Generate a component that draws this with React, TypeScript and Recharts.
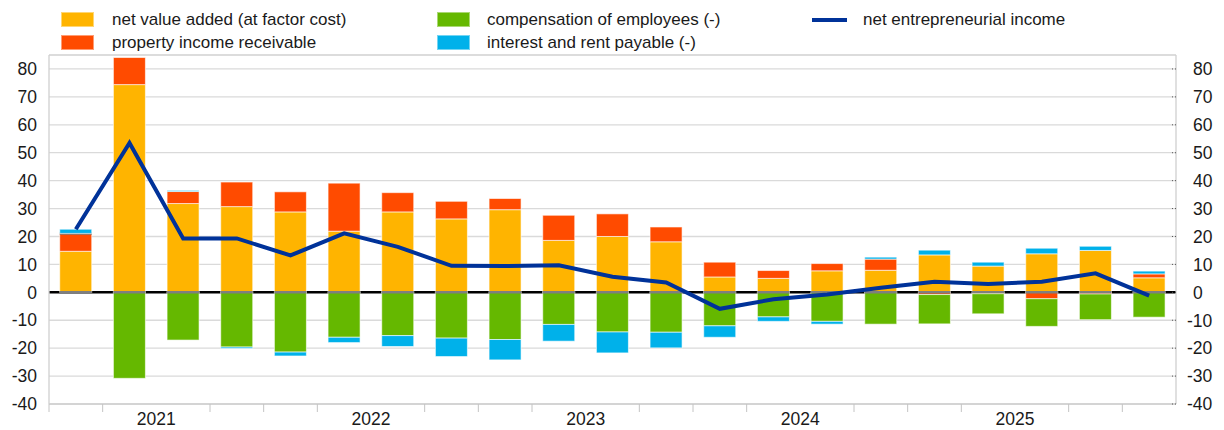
import React from 'react';
import { ComposedChart, Bar, Line, XAxis, YAxis, CartesianGrid, ReferenceLine } from 'recharts';

const quarters = [
  '2021Q1', '2021Q2', '2021Q3', '2021Q4',
  '2022Q1', '2022Q2', '2022Q3', '2022Q4',
  '2023Q1', '2023Q2', '2023Q3', '2023Q4',
  '2024Q1', '2024Q2', '2024Q3', '2024Q4',
  '2025Q1', '2025Q2', '2025Q3', '2025Q4',
  '2026Q1',
];
const netValueAdded = [14.7, 74.4, 31.8, 30.7, 28.8, 21.9, 28.8, 26.3, 29.6, 18.6, 20.0, 18.1, 5.5, 5.0, 7.7, 7.9, 13.4, 9.4, 13.8, 15.0, 5.2];
const propertyIncome = [6.4, 9.7, 4.3, 8.8, 7.2, 17.2, 6.9, 6.3, 4.0, 9.0, 8.1, 5.3, 5.3, 2.8, 2.6, 4.0, -0.8, -0.5, -2.3, -0.6, 1.4];
const compensation = [0, -30.8, -17.1, -19.6, -21.4, -16.1, -15.5, -16.4, -16.9, -11.5, -14.2, -14.3, -12.0, -8.8, -10.4, -11.4, -10.5, -7.2, -9.9, -9.2, -8.9];
const interestRent = [1.5, 0, 0.4, -0.5, -1.4, -1.9, -3.9, -6.6, -7.3, -6.0, -7.5, -5.6, -4.1, -1.6, -1.0, 0.7, 1.7, 1.4, 2.0, 1.5, 1.0];
const entrepreneurialIncome = [22.6, 53.5, 19.3, 19.3, 13.2, 21.1, 16.3, 9.5, 9.4, 9.7, 5.6, 3.5, -5.9, -2.5, -0.8, 1.6, 3.8, 3.0, 3.8, 6.8, -1.2];
const yearLabels = ['2021', '2022', '2023', '2024', '2025'];
const yTicks = [-40, -30, -20, -10, 0, 10, 20, 30, 40, 50, 60, 70, 80];

const seriesNames = {
  nva: 'net value added (at factor cost)',
  prop: 'property income receivable',
  comp: 'compensation of employees (-)',
  int: 'interest and rent payable (-)',
  nei: 'net entrepreneurial income',
};

const COLORS = {
  nva: '#FFB400',
  prop: '#FF4B00',
  comp: '#65B800',
  int: '#00B1EA',
  nei: '#003299',
};

const data = quarters.map((q, i) => ({
  q,
  nva: netValueAdded[i],
  prop: propertyIncome[i],
  comp: compensation[i],
  int: interestRent[i],
  nei: entrepreneurialIncome[i],
}));

const W = 1224;
const H = 430;
const LEFT_W = 49;
const RIGHT_W = 48;
const TOP = 55;
const X_H = 26;
const PLOT_W = W - LEFT_W - RIGHT_W;
const STEP = PLOT_W / quarters.length;
const FONT = '"Liberation Sans", Arial, Helvetica, sans-serif';
const TEXT = '#1a1a1a';
const BAR_STROKE = 'rgba(255,255,255,0.6)';

// Bar segment shape: draws the segment and, when it rests on the zero baseline,
// the grey baseline piece that shows across the bars in the original.
const makeShape = (touchesZero: (row: any) => boolean) => (props: any) => {
  const { x, y, width, height, fill, payload, value } = props;
  if (x == null || y == null || width == null) return <g />;
  const h = height || 0;
  const top = Math.min(y, y + h);
  const bot = Math.max(y, y + h);
  const raw = Array.isArray(value) ? value[1] - value[0] : value;
  const positive = raw >= 0;
  const z = positive ? bot : top;
  return (
    <g>
      <rect x={x} y={top} width={width} height={bot - top} fill={fill} stroke={BAR_STROKE} strokeWidth={1} />
      {touchesZero(payload) && <line x1={x} x2={x + width} y1={z} y2={z} stroke="#7f7f7f" strokeWidth={2.5} />}
    </g>
  );
};

const nvaShape = makeShape(() => true);
const propShape = makeShape((r) => r.prop < 0);
const compShape = makeShape((r) => r.prop >= 0);
const intShape = makeShape(() => false);

const XTick = (props: any) => {
  const { x, y, payload } = props;
  const i = props.index ?? payload.index;
  const bx = x - STEP / 2;
  const isLabel = i % 4 === 2;
  return (
    <g>
      {!isLabel && <line x1={bx} x2={bx} y1={y} y2={y + 8} stroke="#c4c4c4" strokeWidth={1} />}
      {isLabel && (
        <text x={bx} y={y + 21} textAnchor="middle" fontSize={17.5} fill={TEXT} fontFamily={FONT}>
          {yearLabels[(i - 2) / 4]}
        </text>
      )}
    </g>
  );
};

const RIGHT_MARGIN = 17;
const RightTick = (props: any) => {
  const { x, y, payload } = props;
  const v = payload.value;
  const axisX = x - RIGHT_MARGIN;
  return (
    <g>
      <line x1={axisX - 4} x2={axisX} y1={y} y2={y} stroke="#555" strokeWidth={1} strokeDasharray="1 2" />
      <text x={v < 0 ? x - 6 : x} y={y} dy="0.36em" textAnchor="start" fontSize={17.5} fill={TEXT} fontFamily={FONT}>
        {v}
      </text>
    </g>
  );
};

const legendItems = [
  { key: 'nva', type: 'box', x: 61, tx: 112, row: 0 },
  { key: 'comp', type: 'box', x: 437, tx: 487, row: 0 },
  { key: 'nei', type: 'line', x: 812, tx: 863, row: 0 },
  { key: 'prop', type: 'box', x: 61, tx: 112, row: 1 },
  { key: 'int', type: 'box', x: 437, tx: 487, row: 1 },
];

const Legend = () => (
  <>
    {legendItems.map((item) => {
      const cy = 19.5 + item.row * 23;
      return (
        <React.Fragment key={item.key}>
          {item.type === 'box' ? (
            <div
              style={{
                position: 'absolute',
                left: item.x,
                top: cy - 7.5,
                width: 33,
                height: 15,
                background: (COLORS as any)[item.key],
                boxShadow: 'inset 0 0 0 1px rgba(255,255,255,0.45)',
              }}
            />
          ) : (
            <div
              style={{
                position: 'absolute',
                left: item.x,
                top: cy - 2,
                width: 35,
                height: 4,
                background: (COLORS as any)[item.key],
              }}
            />
          )}
          <div
            style={{
              position: 'absolute',
              left: item.tx,
              top: cy - 11,
              height: 22,
              lineHeight: '22px',
              fontSize: 17,
              fontFamily: FONT,
              color: TEXT,
              whiteSpace: 'nowrap',
            }}
          >
            {(seriesNames as any)[item.key]}
          </div>
        </React.Fragment>
      );
    })}
  </>
);

export default function App() {
  return (
    <div style={{ position: 'absolute', left: 0, top: 0, width: W, height: H, background: '#fff', overflow: 'hidden' }}>
      <Legend />
      <ComposedChart
        width={W}
        height={H}
        data={data}
        stackOffset="sign"
        barCategoryGap="20%"
        margin={{ top: TOP, right: 0, bottom: 0, left: 0 }}
        style={{ position: 'absolute', left: 0, top: 0 }}
      >
        <CartesianGrid vertical={false} stroke="#dadada" strokeWidth={1.3} yAxisId="left" />
        <CartesianGrid vertical={false} horizontalValues={[0]} stroke="#000" strokeWidth={2.5} yAxisId="left" />
        <XAxis
          dataKey="q"
          height={X_H}
          interval={0}
          tickLine={false}
          tickSize={0}
          tickMargin={0}
          axisLine={{ stroke: '#cfcfcf', strokeWidth: 1.3 }}
          tick={<XTick />}
        />
        <YAxis
          yAxisId="left"
          orientation="left"
          width={LEFT_W}
          domain={[-40, 85]}
          ticks={yTicks}
          interval={0}
          allowDataOverflow
          tickLine={false}
          tickSize={0}
          tickMargin={12}
          axisLine={{ stroke: '#cfcfcf', strokeWidth: 1.3 }}
          tick={{ fontSize: 17.5, fill: TEXT, fontFamily: FONT }}
        />
        <YAxis
          yAxisId="right"
          orientation="right"
          width={RIGHT_W}
          domain={[-40, 85]}
          ticks={yTicks}
          interval={0}
          allowDataOverflow
          tickLine={false}
          tickSize={0}
          tickMargin={RIGHT_MARGIN}
          axisLine={{ stroke: '#cfcfcf', strokeWidth: 1.3 }}
          tick={<RightTick />}
        />
        <ReferenceLine yAxisId="left" y={85} stroke="#dadada" strokeWidth={1.3} />
        <Bar yAxisId="left" dataKey="nva" stackId="a" fill={COLORS.nva} shape={nvaShape} isAnimationActive={false} />
        <Bar yAxisId="left" dataKey="prop" stackId="a" fill={COLORS.prop} shape={propShape} isAnimationActive={false} />
        <Bar yAxisId="left" dataKey="comp" stackId="a" fill={COLORS.comp} shape={compShape} isAnimationActive={false} />
        <Bar yAxisId="left" dataKey="int" stackId="a" fill={COLORS.int} shape={intShape} isAnimationActive={false} />
        <Line
          yAxisId="left"
          dataKey="nei"
          type="linear"
          stroke={COLORS.nei}
          strokeWidth={4}
          dot={false}
          activeDot={false}
          isAnimationActive={false}
        />
      </ComposedChart>
    </div>
  );
}
